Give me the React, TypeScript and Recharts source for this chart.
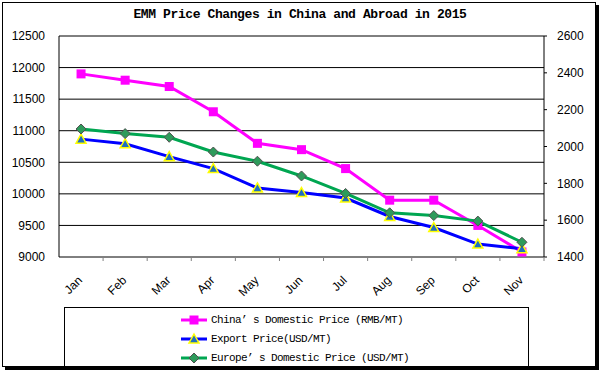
import React from 'react';
import { LineChart, Line, XAxis, YAxis, CartesianGrid, Legend, ReferenceLine } from 'recharts';

const months = ['Jan', 'Feb', 'Mar', 'Apr', 'May', 'Jun', 'Jul', 'Aug', 'Sep', 'Oct', 'Nov'];
const chinaDomestic = [11900, 11800, 11700, 11300, 10800, 10700, 10400, 9900, 9900, 9500, 9080];
const exportPrice = [2040, 2015, 1945, 1880, 1775, 1750, 1720, 1620, 1560, 1470, 1445];
const europeDomestic = [2095, 2070, 2050, 1970, 1920, 1840, 1745, 1640, 1625, 1595, 1480];
const leftTicks = [9000, 9500, 10000, 10500, 11000, 11500, 12000, 12500];
const rightTicks = [1400, 1600, 1800, 2000, 2200, 2400, 2600];
const seriesNames = [
  'China\u2019 s Domestic Price (RMB/MT)',
  'Export Price(USD/MT)',
  'Europe\u2019 s Domestic Price (USD/MT)',
];
const titleText = 'EMM Price Changes in China and Abroad in 2015';

const data = months.map((m, i) => ({
  month: m,
  china: chinaDomestic[i],
  exp: exportPrice[i],
  europe: europeDomestic[i],
}));

const W = 600;
const H = 371;
const PLOT_LEFT = 59;
const PLOT_RIGHT = 544;
const PLOT_TOP = 36;
const PLOT_BOTTOM = 257;
const BAND = (PLOT_RIGHT - PLOT_LEFT) / months.length;

const SquareDot = (props: any) => {
  const { cx, cy, index } = props;
  if (cx == null || cy == null) return <g key={`s${index}`} />;
  return <rect key={`s${index}`} x={cx - 4.5} y={cy - 4.5} width={9} height={9} fill="#FF00FF" />;
};
const TriDot = (props: any) => {
  const { cx, cy, index } = props;
  if (cx == null || cy == null) return <g key={`t${index}`} />;
  return (
    <polygon
      key={`t${index}`}
      points={`${cx},${cy - 5} ${cx + 5},${cy + 4} ${cx - 5},${cy + 4}`}
      fill="#1F6FC0"
      stroke="#FFFF00"
      strokeWidth={1.5}
    />
  );
};
const DiamondDot = (props: any) => {
  const { cx, cy, index } = props;
  if (cx == null || cy == null) return <g key={`d${index}`} />;
  return (
    <polygon
      key={`d${index}`}
      points={`${cx},${cy - 5} ${cx + 5},${cy} ${cx},${cy + 5} ${cx - 5},${cy}`}
      fill="#2E9B5B"
      stroke="#505050"
      strokeWidth={1}
    />
  );
};

const XTick = (props: any) => {
  const { x, payload } = props;
  const tx = x + 2;
  const ty = PLOT_BOTTOM + 24;
  return (
    <g>
      <line x1={x + BAND / 2} x2={x + BAND / 2} y1={PLOT_BOTTOM} y2={PLOT_BOTTOM + 4} stroke="#808080" />
      <text
        x={tx}
        y={ty}
        transform={`rotate(-45 ${tx} ${ty})`}
        textAnchor="end"
        fontSize={12}
        fontFamily="'Liberation Sans', Arial, sans-serif"
        fill="#000"
      >
        {payload.value}
      </text>
    </g>
  );
};

const legendSymbols = [
  (cy: number) => (
    <g>
      <line x1={0} x2={26} y1={cy} y2={cy} stroke="#FF00FF" strokeWidth={3} />
      <rect x={13 - 4.5} y={cy - 4.5} width={9} height={9} fill="#FF00FF" />
    </g>
  ),
  (cy: number) => (
    <g>
      <line x1={0} x2={26} y1={cy} y2={cy} stroke="#0000FF" strokeWidth={3} />
      <polygon points={`13,${cy - 5} 18,${cy + 4} 8,${cy + 4}`} fill="#1F6FC0" stroke="#FFFF00" strokeWidth={1.5} />
    </g>
  ),
  (cy: number) => (
    <g>
      <line x1={0} x2={26} y1={cy} y2={cy} stroke="#00A651" strokeWidth={3} />
      <polygon points={`13,${cy - 5} 18,${cy} 13,${cy + 5} 8,${cy}`} fill="#2E9B5B" stroke="#505050" strokeWidth={1} />
    </g>
  ),
];

const LegendContent = () => (
  <div style={{ position: 'relative', width: '100%', height: '100%' }}>
    {seriesNames.map((name, i) => (
      <div
        key={name}
        style={{
          position: 'absolute',
          left: 116,
          top: 4 + i * 19,
          height: 16,
          display: 'flex',
          alignItems: 'center',
          whiteSpace: 'pre',
        }}
      >
        <svg width={28} height={16} style={{ display: 'block' }}>
          {legendSymbols[i](8)}
        </svg>
        <span
          style={{
            marginLeft: 2,
            fontFamily: "'Liberation Mono', 'DejaVu Sans Mono', monospace",
            fontSize: 11,
            letterSpacing: -0.6,
            color: '#000',
          }}
        >
          {name}
        </span>
      </div>
    ))}
  </div>
);

export default function App() {
  return (
    <div style={{ position: 'absolute', left: 0, top: 0, width: W, height: H, background: '#fff', overflow: 'hidden' }}>
      <div
        style={{
          position: 'absolute',
          left: 2,
          top: 2,
          width: 592,
          height: 363,
          border: '1px solid #000',
          boxShadow: '3px 3px 0 #000',
        }}
      />
      <div
        style={{
          position: 'absolute',
          left: 0,
          top: 7,
          width: W,
          textAlign: 'center',
          fontFamily: "'Liberation Mono', 'DejaVu Sans Mono', monospace",
          fontWeight: 'bold',
          fontSize: 13,
          letterSpacing: -0.4,
          color: '#000',
          whiteSpace: 'pre',
        }}
      >
        {titleText}
      </div>
      <div style={{ position: 'absolute', left: 0, top: 0 }}>
        <LineChart width={W} height={H} data={data} margin={{ top: PLOT_TOP, right: 0, bottom: 0, left: 0 }}>
          <CartesianGrid yAxisId="left" vertical={false} stroke="#000" strokeWidth={1} />
          <XAxis
            dataKey="month"
            interval={0}
            height={H - PLOT_BOTTOM}
            padding={{ left: BAND / 2, right: BAND / 2 }}
            tickLine={false}
            axisLine={{ stroke: '#808080' }}
            tick={<XTick />}
          />
          <YAxis
            yAxisId="left"
            domain={[9000, 12500]}
            ticks={leftTicks}
            width={PLOT_LEFT}
            tickLine={false}
            tickMargin={8}
            axisLine={{ stroke: '#000' }}
            tick={{ fontSize: 12, fill: '#000', fontFamily: "'Liberation Sans', Arial, sans-serif" }}
            allowDataOverflow
          />
          <YAxis
            yAxisId="right"
            orientation="right"
            domain={[1400, 2600]}
            ticks={rightTicks}
            width={W - PLOT_RIGHT}
            tickSize={3}
            tickMargin={10}
            tickLine={{ stroke: '#000' }}
            axisLine={{ stroke: '#000' }}
            tick={{ fontSize: 12, fill: '#000', fontFamily: "'Liberation Sans', Arial, sans-serif" }}
            allowDataOverflow
          />
          <ReferenceLine yAxisId="left" y={12500} stroke="#808080" strokeWidth={1} />
          <Line
            yAxisId="left"
            dataKey="china"
            name={seriesNames[0]}
            stroke="#FF00FF"
            strokeWidth={3}
            dot={SquareDot}
            activeDot={false}
            isAnimationActive={false}
          />
          <Line
            yAxisId="right"
            dataKey="exp"
            name={seriesNames[1]}
            stroke="#0000FF"
            strokeWidth={3}
            dot={TriDot}
            activeDot={false}
            isAnimationActive={false}
          />
          <Line
            yAxisId="right"
            dataKey="europe"
            name={seriesNames[2]}
            stroke="#00A651"
            strokeWidth={3}
            dot={DiamondDot}
            activeDot={false}
            isAnimationActive={false}
          />
          <Legend
            layout="horizontal"
            verticalAlign="middle"
            align="center"
            content={<LegendContent />}
            wrapperStyle={{
              position: 'absolute',
              left: 64,
              top: 307,
              width: 465,
              height: 60,
              border: '1px solid #000',
              borderBottom: 'none',
              boxSizing: 'border-box',
              background: 'transparent',
            }}
          />
        </LineChart>
      </div>
    </div>
  );
}
